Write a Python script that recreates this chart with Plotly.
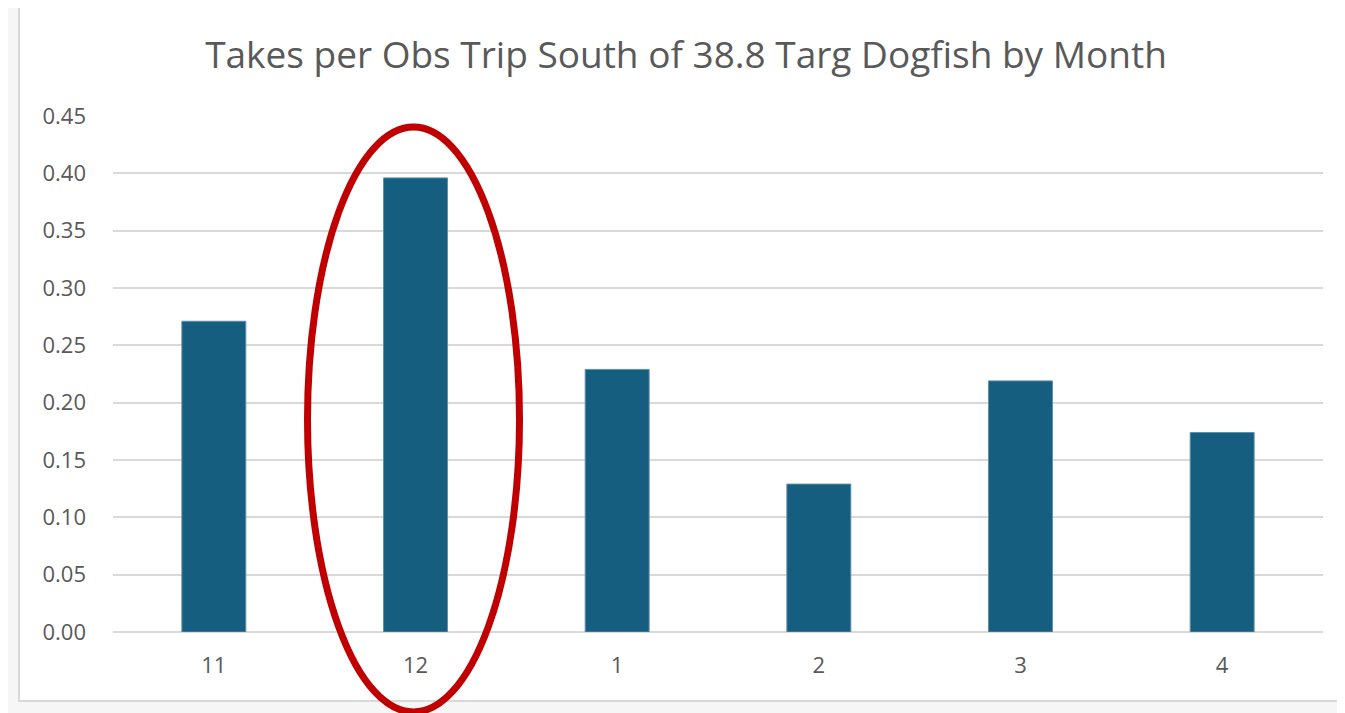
import plotly.graph_objects as go

months = ["11", "12", "1", "2", "3", "4"]
takes_per_trip = [0.271, 0.396, 0.229, 0.129, 0.219, 0.174]
y_ticks = [0.00, 0.05, 0.10, 0.15, 0.20, 0.25, 0.30, 0.35, 0.40, 0.45]
highlight_month = "12"

title_text = "Takes per Obs Trip South of 38.8 Targ Dogfish by Month"
FONT = "'Open Sans', sans-serif"
GRAY = "#595959"

# page body has an 8px margin; figure is sized to fill the rest of the window
W, H = 1337, 705
L, T, PW, PH = 105, 108, 1210, 516
R, B = W - L - PW, H - T - PH

fig = go.Figure()
fig.add_trace(go.Bar(
    x=months, y=takes_per_trip,
    marker=dict(color="#165E80", line=dict(color="#5E8FA8", width=1)),
    width=0.317,
))

def px_x(p):
    return (p - L) / PW

def px_y(p):
    return (T + PH - p) / PH

# card background with border (pixel positions relative to figure)
fig.add_shape(type="rect", xref="paper", yref="paper",
              x0=px_x(11), x1=px_x(1345), y0=px_y(693), y1=px_y(-1),
              fillcolor="white", line=dict(color="#d9d9d9", width=2), layer="below")

# highlight ellipse around the chosen month
n = len(months)
hi = months.index(highlight_month)
cx = (hi + 0.5) / n - 2 / PW
hw = 106 / PW
fig.add_shape(type="circle", xref="paper", yref="paper",
              x0=cx - hw, x1=cx + hw, y0=px_y(704), y1=px_y(119),
              line=dict(color="#C00000", width=7), layer="above")

fig.update_layout(
    width=W, height=H,
    margin=dict(l=L, r=R, t=T, b=B),
    paper_bgcolor="#f6f6f6", plot_bgcolor="white",
    showlegend=False,
    bargap=0.683,
    title=dict(text=title_text, xref="container", x=678 / W, xanchor="center",
               y=1 - 47 / H, yanchor="middle",
               font=dict(family=FONT, size=37, color=GRAY)),
    font=dict(family=FONT, color=GRAY),
)
fig.update_xaxes(type="category", showgrid=False, showline=False, ticks="",
                 tickfont=dict(size=22, color=GRAY), ticklabelstandoff=18,
                 range=[-0.5, n - 0.5])
fig.update_yaxes(range=[0, 0.45], tickvals=y_ticks,
                 ticktext=[f"{v:.2f}" for v in y_ticks],
                 showgrid=True, gridcolor="#d9d9d9", gridwidth=1.5,
                 zeroline=True, zerolinecolor="#d9d9d9", zerolinewidth=1.5,
                 showline=False, ticks="", ticklabelstandoff=26,
                 tickfont=dict(size=22, color=GRAY))

fig.write_html("out.html")
